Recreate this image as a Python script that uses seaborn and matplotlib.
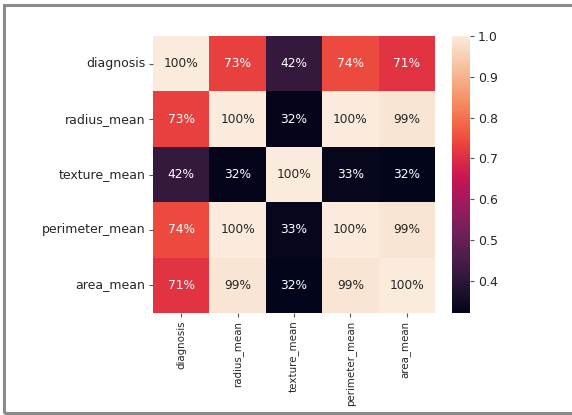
import numpy as np
import pandas as pd
import seaborn as sns
import matplotlib
matplotlib.use("Agg")
import matplotlib.pyplot as plt
from matplotlib.patches import Rectangle

labels = ["diagnosis", "radius_mean", "texture_mean", "perimeter_mean", "area_mean"]
diagnosis = [1.000, 0.730, 0.415, 0.743, 0.709]
radius_mean = [0.730, 1.000, 0.324, 0.998, 0.987]
texture_mean = [0.415, 0.324, 1.000, 0.330, 0.321]
perimeter_mean = [0.743, 0.998, 0.330, 1.000, 0.987]
area_mean = [0.709, 0.987, 0.321, 0.987, 1.000]

corr = pd.DataFrame([diagnosis, radius_mean, texture_mean, perimeter_mean, area_mean],
                    index=labels, columns=labels)

W, H = 572, 415
fig = plt.figure(figsize=(W / 100, H / 100), dpi=100)
ax = fig.add_axes([153 / W, 1 - 313 / H, (435 - 153) / W, (313 - 36) / H])
cax = fig.add_axes([452 / W, 1 - 313 / H, (470 - 452) / W, (313 - 36) / H])

sns.heatmap(corr, annot=True, fmt=".0%", ax=ax, cbar_ax=cax,
            annot_kws={"fontsize": 8.8})
ax.tick_params(axis="y", labelsize=9, length=3, pad=2.5,
               color="#555555", labelcolor="#262626")
ax.tick_params(axis="x", labelsize=7.4, length=3, pad=2.5,
               color="#555555", labelcolor="#262626")
ax.set_yticklabels(labels, rotation=0)
ax.set_xticklabels(labels, rotation=90)
cax.tick_params(labelsize=9, length=3, pad=2.5, color="#555555", labelcolor="#262626")
cax.set_yticks([0.4, 0.5, 0.6, 0.7, 0.8, 0.9, 1.0])

fig.patches.append(Rectangle((4 / W, 2 / H), (W + 10) / W, (H - 7) / H,
                             transform=fig.transFigure, fill=False,
                             edgecolor="#8a8a8a", linewidth=2.2))

fig.savefig("out.png", dpi=100)
